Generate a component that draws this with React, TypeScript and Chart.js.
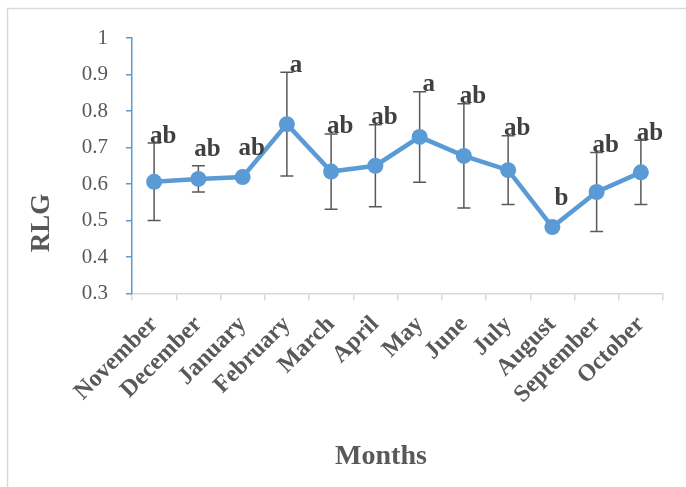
import React, { useEffect, useRef } from "react";
import { Chart, registerables } from "chart.js";

Chart.register(...registerables);

const months = ["November", "December", "January", "February", "March", "April", "May", "June", "July", "August", "September", "October"];
const rlgMeans = [0.606, 0.614, 0.619, 0.764, 0.634, 0.650, 0.729, 0.677, 0.638, 0.482, 0.578, 0.632];
const rlgErrors = [0.106, 0.036, 0, 0.142, 0.103, 0.112, 0.124, 0.143, 0.094, 0, 0.108, 0.088];
const groupLetters = ["ab", "ab", "ab", "a", "ab", "ab", "a", "ab", "ab", "b", "ab", "ab"];
const yTicks = [0.3, 0.4, 0.5, 0.6, 0.7, 0.8, 0.9, 1];

const SERIF = "'Liberation Serif', 'Times New Roman', serif";
const BLUE = "#5B9BD5";
const GRAY_TEXT = "#595959";

const decorPlugin = {
  id: "decor",
  beforeDraw(chart: any) {
    const ctx = chart.ctx;
    ctx.save();
    ctx.fillStyle = "#ffffff";
    ctx.fillRect(0, 0, chart.width, chart.height);
    ctx.strokeStyle = "#d9d9d9";
    ctx.lineWidth = 1.5;
    ctx.strokeRect(7.5, 8.5, chart.width + 50, chart.height + 50);
    ctx.restore();
  },
  beforeDatasetsDraw(chart: any) {
    const ctx = chart.ctx;
    const meta = chart.getDatasetMeta(0);
    const y = chart.scales.y;
    ctx.save();
    ctx.strokeStyle = "#595959";
    ctx.lineWidth = 1.5;
    meta.data.forEach((pt: any, i: number) => {
      const e = rlgErrors[i];
      if (!e) return;
      const top = y.getPixelForValue(rlgMeans[i] + e);
      const bot = y.getPixelForValue(rlgMeans[i] - e);
      const x = pt.x;
      ctx.beginPath();
      ctx.moveTo(x, top);
      ctx.lineTo(x, bot);
      ctx.moveTo(x - 6.5, top);
      ctx.lineTo(x + 6.5, top);
      ctx.moveTo(x - 6.5, bot);
      ctx.lineTo(x + 6.5, bot);
      ctx.stroke();
    });
    ctx.restore();
  },
  afterDraw(chart: any) {
    const ctx = chart.ctx;
    const meta = chart.getDatasetMeta(0);
    const y = chart.scales.y;
    ctx.save();
    ctx.fillStyle = "#404040";
    ctx.font = `bold 25px ${SERIF}`;
    ctx.textAlign = "center";
    ctx.textBaseline = "middle";
    meta.data.forEach((pt: any, i: number) => {
      const topPx = y.getPixelForValue(rlgMeans[i] + rlgErrors[i]);
      const ly = Math.min(topPx - 7, pt.y - 29);
      ctx.fillText(groupLetters[i], pt.x + 9, ly);
    });
    ctx.fillStyle = GRAY_TEXT;
    ctx.font = `bold 28px ${SERIF}`;
    ctx.fillText("Months", 381, 457);
    ctx.translate(42, 223);
    ctx.rotate(-Math.PI / 2);
    ctx.font = `bold 27px ${SERIF}`;
    ctx.fillText("RLG", 0, 0);
    ctx.restore();
  },
};

export default function App() {
  const ref = useRef<HTMLCanvasElement | null>(null);
  useEffect(() => {
    if (!ref.current) return;
    const chart = new Chart(ref.current, {
      type: "line",
      data: {
        labels: months,
        datasets: [
          {
            label: "RLG",
            data: rlgMeans,
            borderColor: BLUE,
            backgroundColor: BLUE,
            borderWidth: 4.5,
            pointRadius: 8,
            pointBorderWidth: 0,
            pointBackgroundColor: BLUE,
            tension: 0,
            fill: false,
          },
        ],
      },
      options: {
        animation: false,
        responsive: false,
        devicePixelRatio: 1,
        layout: { padding: { top: 38, right: 23, left: 0, bottom: 0 } },
        plugins: { legend: { display: false }, tooltip: { enabled: false } },
        scales: {
          x: {
            type: "category",
            offset: true,
            grid: { drawOnChartArea: false, drawTicks: true, tickLength: 7, color: "#d9d9d9", lineWidth: 1.5, offset: true },
            border: { color: "#d9d9d9", width: 1.5 },
            ticks: {
              maxRotation: 45,
              minRotation: 45,
              autoSkip: false,
              padding: 10,
              color: GRAY_TEXT,
              font: { family: SERIF, size: 24, weight: "bold" },
            },
            afterFit: (s: any) => {
              s.height = 193.5;
            },
          },
          y: {
            min: 0.3,
            max: 1,
            afterBuildTicks: (s: any) => {
              s.ticks = yTicks.map((v) => ({ value: v }));
            },
            grid: { drawOnChartArea: false, drawTicks: true, tickLength: 6, color: BLUE, lineWidth: 1.5 },
            border: { color: BLUE, width: 1.5 },
            ticks: {
              padding: 18,
              color: GRAY_TEXT,
              font: { family: SERIF, size: 21 },
              callback: (v: any) => String(Number(Number(v).toFixed(1))),
            },
            afterFit: (s: any) => {
              s.width = 132;
            },
          },
        },
      },
      plugins: [decorPlugin],
    });
    return () => chart.destroy();
  }, []);
  return (
    <div style={{ position: "absolute", left: 0, top: 0, width: 686, height: 487 }}>
      <canvas ref={ref} width={686} height={487} style={{ display: "block" }} />
    </div>
  );
}
